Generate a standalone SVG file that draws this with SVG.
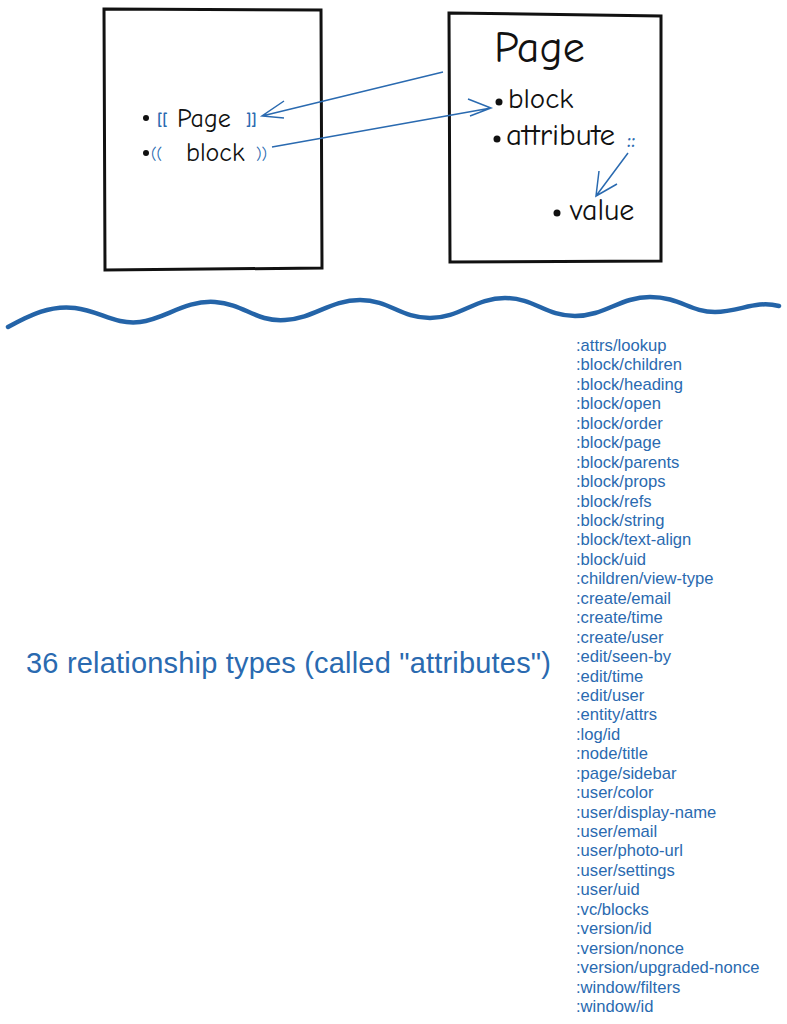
<svg xmlns="http://www.w3.org/2000/svg" width="787" height="1024" viewBox="0 0 787 1024">
<style>
.box{fill:none;stroke:#111;stroke-width:3}
.hw{font-family:"Comic Neue","DejaVu Sans",sans-serif;fill:#111}
.bl{fill:#2a6ab0}
.ln{stroke:#2a6ab0;stroke-width:1.5;fill:none}
.lst{font-family:"Liberation Sans",Arial,sans-serif;font-size:16.6px;fill:#2a6ab0}
</style>
<rect width="787" height="1024" fill="#fff"/>
<g id="left-page">
<path class="box" d="M104 9 L321 10 L322 268 L105 270 Z"/>
<circle cx="146" cy="118" r="3" fill="#111"/>
<text x="157" y="125" class="hw bl" font-size="16" font-weight="bold">[[</text>
<text x="177" y="127" class="hw" font-size="26">Page</text>
<text x="246" y="125" class="hw bl" font-size="16" font-weight="bold">]]</text>
<circle cx="146" cy="153" r="3" fill="#111"/>
<text x="151" y="159" class="hw bl" font-size="16">((</text>
<text x="186" y="161" class="hw" font-size="26">block</text>
<text x="256" y="159" class="hw bl" font-size="16">))</text>
</g>
<g id="right-page">
<path class="box" d="M449 13 L661 16 L661 261 L450 262 Z"/>
<text x="494" y="62" class="hw" font-size="44">Page</text>
<circle cx="499" cy="102" r="3.5" fill="#111"/>
<text x="508" y="108" class="hw" font-size="29">block</text>
<circle cx="497" cy="139" r="3.5" fill="#111"/>
<text x="506" y="145" class="hw" font-size="31">attribute</text>
<text x="627" y="147" class="hw bl" font-size="20" font-weight="bold">::</text>
<circle cx="557" cy="213" r="3.5" fill="#111"/>
<text x="570" y="220" class="hw" font-size="30">value</text>
</g>
<g id="connectors">
<path class="ln" d="M443 72 L262 116 M284 101 L262 116 L284 118"/>
<path class="ln" d="M272 147 L491 108 M468 99 L491 108 L470 116"/>
<path class="ln" d="M628 153 L596 196 M599 171 L596 196 L617 184"/>
</g>
<path d="M8 327 C30 315 50 305 75 308 C100 311 115 325 140 322 C165 319 185 300 215 302 C245 304 255 322 285 320 C315 318 330 300 360 300 C390 300 400 318 430 318 C460 318 475 298 505 298 C535 298 545 316 575 316 C605 316 620 297 650 297 C680 297 690 312 715 312 C740 312 755 300 779 306" fill="none" stroke="#2464a8" stroke-width="4.5" stroke-linecap="round"/>
<text x="26" y="673" font-family="Liberation Sans,Arial,sans-serif" font-size="29" fill="#2a6ab0" textLength="525">36 relationship types (called "attributes")</text>
<g>
<text x="576" y="351" class="lst">:attrs/lookup</text>
<text x="576" y="370.4" class="lst">:block/children</text>
<text x="576" y="389.9" class="lst">:block/heading</text>
<text x="576" y="409.3" class="lst">:block/open</text>
<text x="576" y="428.8" class="lst">:block/order</text>
<text x="576" y="448.2" class="lst">:block/page</text>
<text x="576" y="467.6" class="lst">:block/parents</text>
<text x="576" y="487.1" class="lst">:block/props</text>
<text x="576" y="506.5" class="lst">:block/refs</text>
<text x="576" y="526" class="lst">:block/string</text>
<text x="576" y="545.4" class="lst">:block/text-align</text>
<text x="576" y="564.8" class="lst">:block/uid</text>
<text x="576" y="584.3" class="lst">:children/view-type</text>
<text x="576" y="603.7" class="lst">:create/email</text>
<text x="576" y="623.2" class="lst">:create/time</text>
<text x="576" y="642.6" class="lst">:create/user</text>
<text x="576" y="662" class="lst">:edit/seen-by</text>
<text x="576" y="681.5" class="lst">:edit/time</text>
<text x="576" y="700.9" class="lst">:edit/user</text>
<text x="576" y="720.4" class="lst">:entity/attrs</text>
<text x="576" y="739.8" class="lst">:log/id</text>
<text x="576" y="759.2" class="lst">:node/title</text>
<text x="576" y="778.7" class="lst">:page/sidebar</text>
<text x="576" y="798.1" class="lst">:user/color</text>
<text x="576" y="817.6" class="lst">:user/display-name</text>
<text x="576" y="837" class="lst">:user/email</text>
<text x="576" y="856.4" class="lst">:user/photo-url</text>
<text x="576" y="875.9" class="lst">:user/settings</text>
<text x="576" y="895.3" class="lst">:user/uid</text>
<text x="576" y="914.8" class="lst">:vc/blocks</text>
<text x="576" y="934.2" class="lst">:version/id</text>
<text x="576" y="953.6" class="lst">:version/nonce</text>
<text x="576" y="973.1" class="lst">:version/upgraded-nonce</text>
<text x="576" y="992.5" class="lst">:window/filters</text>
<text x="576" y="1012" class="lst">:window/id</text>
</g>
</svg>
